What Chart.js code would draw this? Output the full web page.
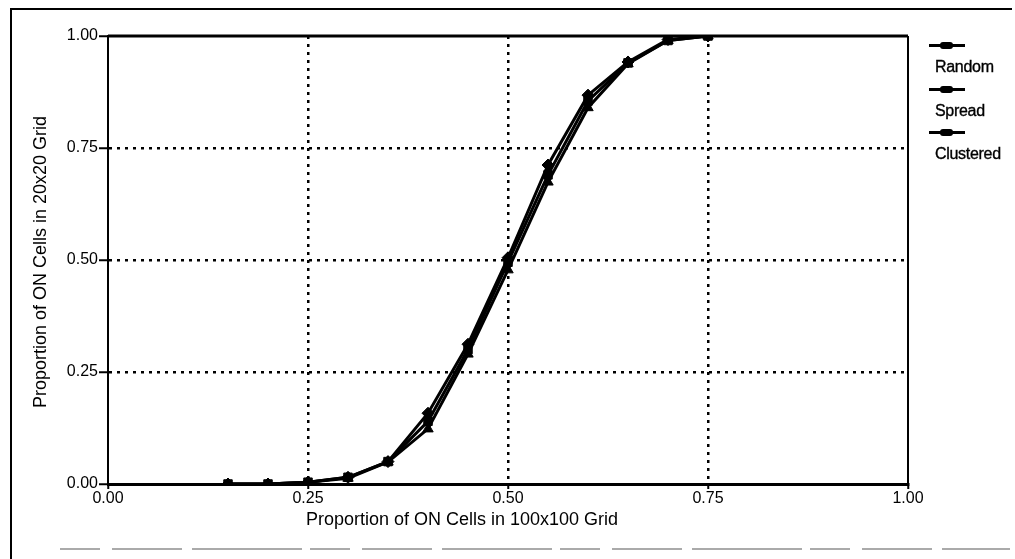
<!DOCTYPE html>
<html>
<head>
<meta charset="utf-8">
<script src="https://cdn.jsdelivr.net/npm/chart.js@4"></script>
<style>
  html, body { margin: 0; padding: 0; background: #fff; }
  #wrap { position: relative; width: 1015px; height: 559px; }
  #legend { position: absolute; left: 928px; top: 40px; font-family: "Liberation Sans", Arial, sans-serif; font-size: 16px; color: #000; }
  #legend .item { height: 43.5px; position: relative; }
  #legend .swatch { position: absolute; left: 1px; top: 4px; width: 36px; height: 3px; background: #000; }
  #legend .swatch::after { content: ""; position: absolute; left: 11px; top: -2px; width: 13px; height: 7px; background: #000; border-radius: 3px; }
  #legend .label { position: absolute; left: 7px; top: 18px; white-space: nowrap; -webkit-text-stroke: 0.35px #000; letter-spacing: -0.3px; }
</style>
</head>
<body>
<div id="wrap">
  <canvas id="c" width="1015" height="559"></canvas>
  <div id="legend"></div>
</div>
<script>
// Proportion of ON cells in the fine (100x100) grid
const gridProportion = [0.15, 0.20, 0.25, 0.30, 0.35, 0.40, 0.45, 0.50, 0.55, 0.60, 0.65, 0.70, 0.75];

// Proportion of ON cells in the coarse (20x20) grid, one list per placement pattern
const randomValues    = [0, 0, 0.004, 0.015, 0.050, 0.140, 0.300, 0.495, 0.690, 0.855, 0.940, 0.990, 1.000];
const spreadValues    = [0, 0, 0.004, 0.015, 0.050, 0.158, 0.312, 0.505, 0.712, 0.868, 0.942, 0.992, 1.000];
const clusteredValues = [0, 0, 0.004, 0.013, 0.049, 0.123, 0.290, 0.478, 0.674, 0.840, 0.938, 0.990, 1.000];

const seriesNames = ["Random", "Spread", "Clustered"];
const tickValues = [0, 0.25, 0.5, 0.75, 1];

const xTitle = "Proportion of ON Cells in 100x100 Grid";
const yTitle = "Proportion of ON Cells in 20x20 Grid";

const FONT = '"Liberation Sans", Arial, sans-serif';

function toPoints(ys) {
  return gridProportion.map((x, i) => ({ x: x, y: ys[i] }));
}

const styles = ["rect", "rectRot", "triangle"];
const datasets = [randomValues, spreadValues, clusteredValues].map((vals, i) => ({
  label: seriesNames[i],
  data: toPoints(vals),
  borderColor: "#000",
  backgroundColor: "#000",
  borderWidth: 3,
  pointStyle: styles[i],
  pointRadius: 6,
  pointBorderWidth: 1,
  tension: 0
}));

// Frame, plot border and axis titles drawn onto the canvas
const decorations = {
  id: "decorations",
  beforeDatasetsDraw(chart) {
    const { ctx, chartArea: a } = chart;
    ctx.save();
    ctx.strokeStyle = "#000";
    ctx.setLineDash([]);
    ctx.lineWidth = 3;
    ctx.beginPath();
    ctx.moveTo(a.left, a.top);
    ctx.lineTo(a.right, a.top);
    ctx.stroke();
    ctx.lineWidth = 2;
    ctx.beginPath();
    ctx.moveTo(a.right, a.top);
    ctx.lineTo(a.right, a.bottom);
    ctx.stroke();
    ctx.restore();
  },
  afterDraw(chart) {
    const { ctx } = chart;
    ctx.save();
    // outer frame
    ctx.strokeStyle = "#000";
    ctx.lineWidth = 2;
    ctx.beginPath();
    ctx.moveTo(11, 559);
    ctx.lineTo(11, 9);
    ctx.lineTo(1012, 9);
    ctx.stroke();
    // faint broken rule along the bottom
    ctx.strokeStyle = "#aaa";
    ctx.lineWidth = 2;
    ctx.setLineDash([40, 12, 70, 10, 110, 8]);
    ctx.beginPath();
    ctx.moveTo(60, 549);
    ctx.lineTo(1010, 549);
    ctx.stroke();
    ctx.setLineDash([]);
    // axis titles
    ctx.fillStyle = "#000";
    ctx.font = "18px " + FONT;
    ctx.textAlign = "center";
    ctx.textBaseline = "middle";
    ctx.fillText(xTitle, 462, 520);
    ctx.translate(41, 262);
    ctx.rotate(-Math.PI / 2);
    ctx.fillText(yTitle, 0, 0);
    ctx.restore();
  }
};

const gridColor = (c) => (c.tick && (c.tick.value === 0 || c.tick.value === 1)) ? "rgba(0,0,0,0)" : "#000";

const chart = new Chart(document.getElementById("c"), {
  type: "line",
  data: { datasets },
  options: {
    responsive: false,
    animation: false,
    layout: { padding: { left: 0, top: 36, right: 107, bottom: 0 } },
    plugins: { legend: { display: false }, tooltip: { enabled: false } },
    scales: {
      x: {
        type: "linear",
        min: 0, max: 1,
        afterBuildTicks(s) { s.ticks = tickValues.map(v => ({ value: v })); },
        afterFit(s) { s.height = 75; },
        border: { display: true, color: "#000", width: 3, dash: [3, 5] },
        grid: {
          color: gridColor,
          lineWidth: 2.5,
          drawTicks: true,
          tickLength: 5,
          tickColor: "#000",
          tickWidth: 2,
          tickBorderDash: []
        },
        ticks: {
          color: "#000",
          font: { family: FONT, size: 16 },
          padding: 0,
          maxRotation: 0,
          callback: (v) => Number(v).toFixed(2)
        }
      },
      y: {
        type: "linear",
        min: 0, max: 1,
        afterBuildTicks(s) { s.ticks = tickValues.map(v => ({ value: v })); },
        afterFit(s) { s.width = 108; },
        border: { display: true, color: "#000", width: 2, dash: [3, 5] },
        grid: {
          color: gridColor,
          lineWidth: 2.5,
          tickLength: 9,
          tickColor: "#000",
          tickWidth: 2,
          tickBorderDash: []
        },
        ticks: {
          color: "#000",
          font: { family: FONT, size: 16 },
          padding: 1,
          callback: (v) => Number(v).toFixed(2)
        }
      }
    }
  },
  plugins: [decorations]
});

// Legend: a short line sample above each series name
const legend = document.getElementById("legend");
seriesNames.forEach((name) => {
  const item = document.createElement("div");
  item.className = "item";
  item.innerHTML = '<div class="swatch"></div><div class="label">' + name + '</div>';
  legend.appendChild(item);
});
</script>
</body>
</html>
